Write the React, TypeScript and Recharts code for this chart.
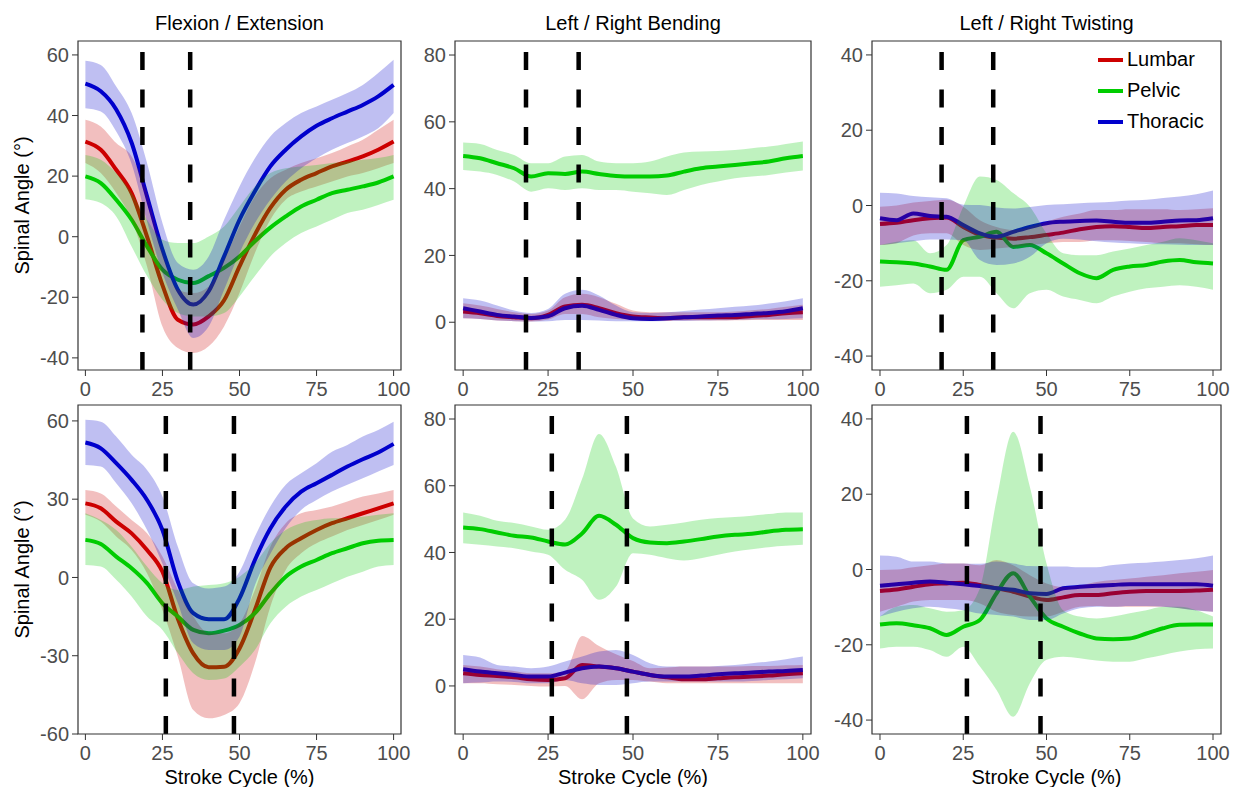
import React from 'react';
import { ComposedChart, Line, Area, XAxis, YAxis, ReferenceLine, ReferenceArea, Legend } from 'recharts';

// stroke cycle sample points (%)
const strokeCycle = [0, 5, 10, 15, 20, 25, 30, 35, 40, 45, 50, 55, 60, 65, 70, 75, 80, 85, 90, 95, 100];
const xTicks = [0, 25, 50, 75, 100];

// dashed phase markers
const topPhases = [18.5, 34];
const bottomPhases = [26.1, 48.2];

// ---- Flexion / Extension, top row ----
const flexTopLumbar = [31.4, 28.7, 22.1, 14.4, 0, -16, -27.4, -29, -26.3, -21, -9.8, 0.7, 9.5, 15.5, 18.8, 21, 23.2, 24.8, 26.5, 28.7, 31.4];
const flexTopLumbarLo = [24.3, 21, 14.4, 5.6, -9.8, -29.6, -36.7, -38.4, -36.2, -29.6, -18.6, -5.4, 5.6, 12.2, 14.9, 16.6, 18.2, 19.9, 21, 22.6, 24.3];
const flexTopLumbarHi = [38.6, 36.4, 30.9, 26.5, 14.4, -5.4, -17.5, -18.6, -16.4, -7.6, 3.4, 13.3, 19.3, 22.1, 24.3, 25.9, 27.6, 29.8, 32, 35.3, 38.6];
const flexTopPelvic = [19.9, 17.7, 12.2, 5.6, -3.2, -10.9, -14.2, -15.3, -13, -10.3, -6.5, -1.5, 3, 6.7, 10, 12.2, 14.4, 15.5, 16.6, 17.9, 19.9];
const flexTopPelvicLo = [12.4, 11.1, 6.7, -3.2, -13, -20.8, -25.2, -26.3, -26.3, -25.2, -19.7, -13, -6.5, -2.1, 1.2, 3.4, 5.6, 7.8, 8.9, 10.5, 12.2];
const flexTopPelvicHi = [27, 25.4, 21, 14.4, 5.6, -1, -2.1, -2.1, 0.1, 3.4, 10, 16.6, 21, 22.6, 23.2, 23.7, 24.3, 24.8, 25.4, 26, 27];
const flexTopThoracic = [50.5, 48, 42, 31, 13.3, -4.3, -17.5, -22.4, -18, -6.5, 5.6, 15, 23.2, 28.7, 33.1, 36.6, 39.1, 41.3, 43.5, 46.3, 50.1];
const flexTopThoracicLo = [42.4, 41.3, 34.7, 24, 5, -12, -24, -33.4, -29.6, -17.5, -5.4, 4.5, 12.2, 18.2, 22.6, 25.9, 28.7, 30.9, 33.1, 35.8, 40.8];
const flexTopThoracicHi = [58.1, 56.7, 49.6, 40.8, 24.3, 4.5, -8.7, -10.9, -6.5, 5.6, 16.6, 25.9, 33.1, 37.5, 40.8, 43, 45.2, 47.4, 50.1, 54, 58.4];

// ---- Left / Right Bending, top row ----
const bendTopLumbar = [3.2, 2.7, 1.9, 1.5, 1.2, 2.2, 4.7, 5.2, 4.2, 2.7, 1.7, 1.4, 1.2, 1.5, 1.5, 1.5, 1.5, 1.9, 2.2, 2.7, 3];
const bendTopLumbarLo = [1.2, 1, 0.5, 0.3, 0.2, 0.8, 2.5, 2.5, 1.5, 1, 0.7, 0.5, 0.5, 0.5, 0.5, 0.5, 0.6, 0.7, 0.7, 0.7, 0.7];
const bendTopLumbarHi = [5.7, 5, 4, 3, 2.5, 3.5, 7.5, 8.5, 7.5, 5.5, 3.5, 3, 3, 3, 3, 3, 3.2, 3.6, 4, 4.6, 5.2];
const bendTopPelvic = [49.8, 49.1, 47.6, 46.1, 43.6, 44.6, 44.4, 45.1, 44.4, 43.8, 43.6, 43.6, 43.9, 45.1, 46.1, 46.6, 47.1, 47.6, 48.1, 49.1, 49.8];
const bendTopPelvicLo = [45.6, 45.1, 44.1, 42.1, 39.1, 40.1, 39.6, 40.1, 39.6, 39.6, 39.1, 38.6, 38.1, 39.6, 41.1, 42.1, 43.1, 43.6, 44.1, 44.8, 45.4];
const bendTopPelvicHi = [53.8, 53.4, 51.6, 50.1, 47.6, 47.6, 49.6, 50.1, 48.1, 47.6, 47.6, 48.1, 49.6, 50.8, 51.1, 51.3, 51.6, 52.1, 52.6, 53.4, 54.1];
const bendTopThoracic = [4.2, 3.2, 2.2, 1.7, 1.3, 1.8, 4.2, 4.9, 3.7, 2.2, 1.2, 1, 1.2, 1.5, 1.7, 2, 2.2, 2.5, 2.8, 3.3, 4.2];
const bendTopThoracicLo = [1.2, 1, 0.5, 0.3, 0.2, 0.3, 0.7, 0.7, 0.5, 0.3, 0.3, 0.3, 0.4, 0.4, 0.5, 0.6, 0.7, 0.8, 0.9, 1, 1.2];
const bendTopThoracicHi = [7.2, 6.5, 5, 3.5, 2.8, 4, 8.5, 9.7, 8, 5, 3, 2.8, 3, 3.4, 3.8, 4.2, 4.6, 5, 5.6, 6.3, 7.2];

// ---- Left / Right Twisting, top row ----
const twistTopLumbar = [-4.9, -4.6, -3.9, -3.4, -3.2, -5.7, -7.8, -8.5, -8.8, -8.4, -7.8, -7.2, -6.3, -5.7, -5.5, -5.7, -6, -5.7, -5.5, -5.2, -5.2];
const twistTopLumbarLo = [-10.5, -10, -8, -7.4, -7.4, -10.5, -11.8, -11.4, -11, -10.5, -10, -9.7, -9.7, -9.2, -9.2, -9.4, -9.7, -10, -10, -10.3, -10.5];
const twistTopLumbarHi = [-0.3, 0, 0.8, 1.2, 1.5, -0.3, -3.9, -5.7, -6.5, -5.7, -4.3, -3, -2.1, -1.2, -1.2, -1, -1, -1, -1.2, -1, -0.7];
const twistTopPelvic = [-14.9, -15.1, -15.4, -16.2, -17.1, -9.2, -8.3, -7, -11, -10.5, -12.7, -15.4, -18, -19.3, -17.1, -16.2, -15.8, -14.9, -14.5, -15.1, -15.4];
const twistTopPelvicLo = [-21.6, -21.2, -20.7, -23.3, -22.4, -18.9, -18.9, -23.3, -27.3, -23.3, -22.4, -24.2, -25.1, -26, -24.2, -22.9, -22, -21.6, -21.2, -21.6, -22.4];
const twistTopPelvicHi = [-10.5, -9.6, -9.2, -12.7, -10.5, -0.3, 7.7, 6.8, 3.3, -0.3, -7.4, -12.7, -13.2, -13.2, -12.2, -11.4, -10.5, -9.6, -8.7, -9.2, -10];
const twistTopThoracic = [-3.4, -3.9, -2.1, -2.8, -3, -5.2, -7.4, -8.3, -7, -5.7, -4.7, -4.3, -4.1, -4, -4.3, -4.6, -4.6, -4.3, -4, -3.9, -3.4];
const twistTopThoracicLo = [-10.5, -10, -9.5, -9, -9, -9.2, -14.5, -15.8, -15.4, -13.6, -10, -8.8, -9, -9.5, -9.8, -10, -10.2, -10.3, -10.4, -10.5, -10.5];
const twistTopThoracicHi = [3.4, 3.2, 2.5, 2.2, 1.9, 0.2, 0.1, -0.5, -0.8, -0.4, 0.1, 0.3, 0.6, 0.8, 1, 1.3, 1.5, 2, 2.4, 3, 4];

// ---- Flexion / Extension, bottom row ----
const flexBotLumbar = [28.4, 26.5, 21.4, 16.9, 10.5, 2.2, -15.8, -29.1, -34.4, -34.2, -27.2, -12.5, 3.8, 11.2, 15, 18.2, 20.8, 22.7, 24.6, 26.5, 28.4];
const flexBotLumbarLo = [24, 21.4, 15.7, 10.5, 1.6, -12.5, -30.4, -50.8, -54, -52.7, -48.2, -32.9, -11.2, 2.9, 9.3, 13.1, 15.7, 18.2, 20.1, 22, 24];
const flexBotLumbarHi = [33.5, 32.2, 27.2, 22, 16.9, 8, -4.8, -15, -21.4, -21.4, -17.6, -4.8, 11.8, 20.8, 24.6, 25.9, 27.2, 29.1, 31, 32.2, 33.5];
const flexBotPelvic = [14.4, 12.8, 8, 3.5, -2.2, -9.9, -15, -20.1, -21.4, -20.4, -18.2, -13.7, -6.1, 0.3, 4.2, 6.7, 9.3, 11.2, 13.1, 14.1, 14.4];
const flexBotPelvicLo = [4.8, 4.2, -0.9, -7.3, -15, -20.1, -29, -36.7, -39.3, -38.7, -34.2, -27.8, -17.6, -11.2, -7.3, -4.8, -2.2, 0.3, 2.2, 4.2, 4.8];
const flexBotPelvicHi = [24.6, 22, 18.2, 11.8, 4.2, -2.2, -4.8, -3.5, -2.9, -2.2, 0.3, 5.4, 13.1, 18.2, 20.8, 22, 22.7, 22.7, 23.3, 24, 24.6];
const flexBotThoracic = [51.7, 49.5, 43.8, 37.4, 29.7, 18.2, -1.6, -13.7, -16, -16, -8, 6.7, 18.8, 27.2, 32.9, 36.1, 39.3, 42.5, 45.3, 47.9, 51.2];
const flexBotThoracicLo = [43.1, 42.5, 36.1, 28.4, 18.2, 5.3, -9.9, -25.2, -27.8, -27.8, -22.7, -3, 9, 19, 25.9, 29.7, 32.9, 35.5, 38, 40.6, 43.1];
const flexBotThoracicHi = [60.4, 59.7, 54, 47, 41.2, 31, 11.8, -2.2, -4.2, -3.5, 2.2, 15.7, 27.2, 35.5, 39.9, 43.8, 48.2, 50.8, 54, 56.5, 59.7];

// ---- Left / Right Bending, bottom row ----
const bendBotLumbar = [3.8, 3.3, 3, 2.6, 2, 1.8, 2.3, 6.3, 5.8, 5.3, 4.3, 3.3, 2.6, 2, 2, 2.3, 2.6, 2.8, 3.1, 3.5, 3.8];
const bendBotLumbarLo = [0.8, 0.8, 0.5, 0.3, 0, -0.2, 0, -4, 0.8, 1.8, 1.8, 1.3, 0.8, 0.8, 0.8, 0.8, 0.8, 0.8, 0.8, 0.8, 0.8];
const bendBotLumbarHi = [6.3, 5.8, 5, 4.5, 3.8, 3.8, 4.5, 15, 12, 9.5, 7.5, 5.3, 5.5, 5.8, 5.8, 5.8, 5.8, 6, 6, 6.2, 6.3];
const bendBotPelvic = [47.5, 47, 46, 45, 44.5, 43.3, 42.4, 45.7, 51, 48.3, 44.3, 43, 42.8, 43.3, 44, 44.8, 45.3, 45.6, 46.3, 46.8, 47];
const bendBotPelvicLo = [42.8, 42.3, 41.8, 41.3, 40.3, 39.3, 34.8, 31.8, 25.8, 29.8, 39.8, 39.3, 38.3, 37.6, 38.3, 39.3, 40.3, 41, 41.6, 42, 42.3];
const bendBotPelvicHi = [52, 51, 49.5, 48.8, 47.8, 46.8, 49.8, 62, 75.5, 65.7, 50.2, 47.8, 48.3, 49, 49.8, 50.3, 50.6, 51, 51.5, 52, 52];
const bendBotThoracic = [5, 4.3, 3.8, 3.3, 2.8, 2.8, 4, 5.3, 5.8, 5.3, 4.3, 3.3, 2.8, 2.8, 3.1, 3.5, 3.8, 4, 4.3, 4.5, 4.8];
const bendBotThoracicLo = [0.8, 1, 1.3, 1.2, 0.8, 0.8, 1.8, 0.8, 0.3, 0.3, 0.8, 1.3, 1.3, 1.3, 1.3, 1.3, 1.3, 1.5, 1.8, 2, 2.3];
const bendBotThoracicHi = [9.3, 8.5, 6.3, 5.8, 5.3, 5.8, 7.3, 8.8, 10.3, 10.8, 9.3, 6.8, 5.8, 5.8, 5.8, 6, 6.3, 6.8, 7.3, 8, 8.8];

// ---- Left / Right Twisting, bottom row ----
const twistBotLumbar = [-5.7, -5.3, -4.6, -3.9, -3.7, -3.5, -4.1, -5, -5.9, -7.2, -8.1, -7.4, -6.8, -6.8, -6.3, -5.9, -5.7, -5.7, -5.7, -5.6, -5.4];
const twistBotLumbarLo = [-11.2, -9.9, -8.5, -8.1, -8.1, -8.1, -9, -11.2, -12.1, -12.5, -12.5, -11.2, -9.9, -9.7, -9.9, -9.9, -9.9, -9.9, -10.3, -10.8, -11.2];
const twistBotLumbarHi = [-0.1, 0, 0.6, 1.1, 1.6, 1.6, 1.1, 2.5, 1.1, -1.5, -3.7, -4.6, -4.2, -3.3, -2.8, -2.4, -1.9, -1.5, -1, -0.6, -0.1];
const twistBotPelvic = [-14.6, -14.3, -14.8, -15.6, -17.4, -15.2, -13.4, -6.3, -1, -7.2, -13, -15.2, -17, -18.3, -18.5, -18.3, -17, -15.6, -14.7, -14.6, -14.6];
const twistBotPelvicLo = [-21, -20.5, -20.5, -21.4, -23.2, -20.5, -25.8, -32, -39.1, -30.2, -24, -23.2, -23.6, -24.2, -24.5, -24.5, -23.6, -22.7, -21.8, -21.2, -21];
const twistBotPelvicHi = [-12.5, -9.9, -9.4, -10.3, -11.2, -10.8, -5, 18.5, 36.6, 22, 1.6, -10.8, -12.5, -13, -12.5, -11.6, -10.8, -9.9, -9.9, -10.8, -12.5];
const twistBotThoracic = [-4.3, -3.9, -3.5, -3.2, -3.5, -3.9, -4.4, -5, -5.4, -6.3, -6.5, -5, -4.6, -4.3, -4.1, -3.9, -3.9, -3.9, -3.9, -3.9, -4.3];
const twistBotThoracicLo = [-12.5, -11.2, -10.3, -9.9, -10.3, -10.8, -11.7, -12.1, -12.5, -13.4, -13.4, -11.7, -10.3, -9.9, -9.9, -9.7, -9.7, -9.9, -10.3, -10.9, -11.2];
const twistBotThoracicHi = [3.7, 3.4, 2.1, 2.1, 1.6, 1.6, 1.5, 2.1, 1.6, 0.9, 0.8, 0.8, 0.6, 0.6, 1.2, 1.6, 1.8, 2.1, 2.5, 3, 3.7];

const SERIES = [
  { key: 'lumbar', name: 'Lumbar', color: '#CD0000' },
  { key: 'pelvic', name: 'Pelvic', color: '#00CD00' },
  { key: 'thoracic', name: 'Thoracic', color: '#0000CD' },
];

const FONT = '"Liberation Sans", Arial, sans-serif';
const X_DOMAIN: [number, number] = [-2.4, 102.4];
const PLOT_H = 329;
const RIGHT_PAD = 20;

type Band = [number[], number[], number[]];

const buildRows = (l: Band, p: Band, t: Band) =>
  strokeCycle.map((x, i) => ({
    x,
    lumbar: l[0][i],
    lumbarBand: [l[1][i], l[2][i]],
    pelvic: p[0][i],
    pelvicBand: [p[1][i], p[2][i]],
    thoracic: t[0][i],
    thoracicBand: [t[1][i], t[2][i]],
  }));

const panels = [
  {
    id: 'flexTop', title: 'Flexion / Extension', left: 78, top: 41, width: 323,
    domain: [-44, 64.6], ticks: [-40, -20, 0, 20, 40, 60], phases: topPhases, yLabel: true, xLabel: false,
    data: buildRows([flexTopLumbar, flexTopLumbarLo, flexTopLumbarHi], [flexTopPelvic, flexTopPelvicLo, flexTopPelvicHi], [flexTopThoracic, flexTopThoracicLo, flexTopThoracicHi]),
  },
  {
    id: 'bendTop', title: 'Left / Right Bending', left: 455, top: 41, width: 356,
    domain: [-14.3, 84.2], ticks: [0, 20, 40, 60, 80], phases: topPhases, yLabel: false, xLabel: false,
    data: buildRows([bendTopLumbar, bendTopLumbarLo, bendTopLumbarHi], [bendTopPelvic, bendTopPelvicLo, bendTopPelvicHi], [bendTopThoracic, bendTopThoracicLo, bendTopThoracicHi]),
  },
  {
    id: 'twistTop', title: 'Left / Right Twisting', left: 872, top: 41, width: 349,
    domain: [-43.7, 43.7], ticks: [-40, -20, 0, 20, 40], phases: topPhases, yLabel: false, xLabel: false, legend: true,
    data: buildRows([twistTopLumbar, twistTopLumbarLo, twistTopLumbarHi], [twistTopPelvic, twistTopPelvicLo, twistTopPelvicHi], [twistTopThoracic, twistTopThoracicLo, twistTopThoracicHi]),
  },
  {
    id: 'flexBot', left: 78, top: 405, width: 323,
    domain: [-60, 66.1], ticks: [-60, -30, 0, 30, 60], phases: bottomPhases, yLabel: true, xLabel: true,
    data: buildRows([flexBotLumbar, flexBotLumbarLo, flexBotLumbarHi], [flexBotPelvic, flexBotPelvicLo, flexBotPelvicHi], [flexBotThoracic, flexBotThoracicLo, flexBotThoracicHi]),
  },
  {
    id: 'bendBot', left: 455, top: 405, width: 356,
    domain: [-14.4, 84.2], ticks: [0, 20, 40, 60, 80], phases: bottomPhases, yLabel: false, xLabel: true,
    data: buildRows([bendBotLumbar, bendBotLumbarLo, bendBotLumbarHi], [bendBotPelvic, bendBotPelvicLo, bendBotPelvicHi], [bendBotThoracic, bendBotThoracicLo, bendBotThoracicHi]),
  },
  {
    id: 'twistBot', left: 872, top: 405, width: 349,
    domain: [-43.7, 43.7], ticks: [-40, -20, 0, 20, 40], phases: bottomPhases, yLabel: false, xLabel: true,
    data: buildRows([twistBotLumbar, twistBotLumbarLo, twistBotLumbarHi], [twistBotPelvic, twistBotPelvicLo, twistBotPelvicHi], [twistBotThoracic, twistBotThoracicLo, twistBotThoracicHi]),
  },
];

const renderLegend = () => (
  <div style={{ fontFamily: FONT }}>
    {SERIES.map((s) => (
      <div key={s.key} style={{ display: 'flex', alignItems: 'center', height: 31 }}>
        <span style={{ display: 'inline-block', width: 25, height: 4, background: s.color, marginRight: 4 }} />
        <span style={{ fontSize: 20, color: '#000' }}>{s.name}</span>
      </div>
    ))}
  </div>
);

const Panel = ({ p }: { p: any }) => {
  const yW = p.yLabel ? 78 : 50;
  const xH = p.xLabel ? 53 : 30;
  const tickStyle = { fill: '#4D4D4D', fontSize: 20, fontFamily: FONT };

  return (
    <div style={{ position: 'absolute', left: p.left - yW, top: p.top - 5 }}>
      <ComposedChart width={yW + p.width + RIGHT_PAD} height={5 + PLOT_H + xH} data={p.data} margin={{ top: 5, right: RIGHT_PAD, left: 0, bottom: 0 }}>
        <XAxis
          dataKey="x" type="number" domain={X_DOMAIN} ticks={xTicks} allowDataOverflow
          axisLine={false} tickLine={{ stroke: '#333' }} tickSize={6} tickMargin={6} tick={tickStyle} height={xH}
          label={p.xLabel ? { value: 'Stroke Cycle (%)', position: 'insideBottom', offset: 3, fill: '#000', fontSize: 20, fontFamily: FONT } : undefined}
        />
        <YAxis
          type="number" domain={p.domain} ticks={p.ticks} allowDataOverflow
          axisLine={false} tickLine={{ stroke: '#333' }} tickSize={6} tickMargin={3} tick={tickStyle} width={yW}
          label={p.yLabel ? { value: 'Spinal Angle (°)', angle: -90, position: 'insideLeft', offset: 22, fill: '#000', fontSize: 20, fontFamily: FONT, style: { textAnchor: 'middle' } } : undefined}
        />
        {SERIES.map((s) => (
          <Line key={s.key} type="monotone" dataKey={s.key} name={s.name} stroke={s.color} strokeWidth={4}
            dot={false} activeDot={false} isAnimationActive={false} zIndex={300} />
        ))}
        {SERIES.map((s) => (
          <Area key={s.key + 'Band'} type="monotone" dataKey={s.key + 'Band'} stroke="none" fill={s.color} fillOpacity={0.25}
            legendType="none" dot={false} activeDot={false} isAnimationActive={false} zIndex={450} />
        ))}
        {p.phases.map((x: number) => (
          <ReferenceLine key={x} x={x} stroke="#000" strokeWidth={4.5} strokeDasharray="18 19.5" zIndex={600} />
        ))}
        <ReferenceArea x1={X_DOMAIN[0]} x2={X_DOMAIN[1]} y1={p.domain[0]} y2={p.domain[1]}
          fill="none" stroke="#333" strokeWidth={1.2} zIndex={700} />
        {p.legend && (
          <Legend layout="vertical" align="center" verticalAlign="middle" content={renderLegend}
            wrapperStyle={{ top: 8, left: 276, width: 'auto' }} />
        )}
      </ComposedChart>
    </div>
  );
};

export default function App() {
  return (
    <div style={{ position: 'absolute', left: 0, top: 0, width: 1237, height: 787, background: '#fff', fontFamily: FONT }}>
      {panels.filter((p) => p.title).map((p) => (
        <div key={p.id + 'Title'} style={{ position: 'absolute', left: p.left, top: 12, width: p.width, textAlign: 'center', fontSize: 20, color: '#000' }}>
          {p.title}
        </div>
      ))}
      {panels.map((p) => (
        <Panel key={p.id} p={p} />
      ))}
    </div>
  );
}
